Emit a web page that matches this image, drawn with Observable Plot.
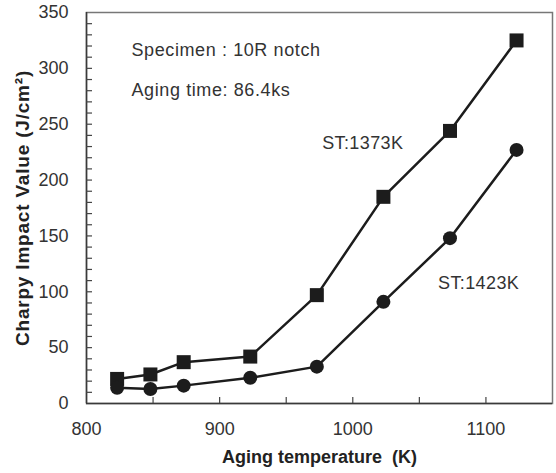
<!DOCTYPE html>
<html>
<head>
<meta charset="utf-8">
<script src="https://cdn.jsdelivr.net/npm/d3@7"></script>
<script src="https://cdn.jsdelivr.net/npm/@observablehq/plot@0.6"></script>
<style>
  body { margin: 0; background: #fff; }
  svg text { white-space: pre; }
</style>
</head>
<body>
<div id="chart"></div>
<script>
// Aging temperature (K) and Charpy impact values (J/cm²) for two solution treatments
const agingTemps = [823, 848, 873, 923, 973, 1023, 1073, 1123];
const st1373 = [22, 26, 37, 42, 97, 185, 244, 325];
const st1423 = [14, 13, 16, 23, 33, 91, 148, 227];
const seriesNames = ["ST:1373K", "ST:1423K"];
const notes = ["Specimen : 10R notch", "Aging time: 86.4ks"];
const xTitle = "Aging temperature  (K)";
const yTitle = "Charpy Impact Value (J/cm²)";

// Axis tick labels and tick marks
const xTickLabels = [800, 900, 1000, 1100];
const yTickLabels = [0, 50, 100, 150, 200, 250, 300, 350];
const xTickMarks = [850, 900, 950, 1000, 1050, 1100];
const yTickMarks = d3.range(10, 350, 10);

const rows = [
  ...agingTemps.map((t, i) => ({t, v: st1373[i], s: seriesNames[0]})),
  ...agingTemps.map((t, i) => ({t, v: st1423[i], s: seriesNames[1]}))
];

const W = 556, H = 473;
const mL = 86, mR = 4, mT = 12, mB = 70;
const plotW = W - mL - mR, plotH = H - mT - mB;
const font = "'Liberation Sans', Arial, sans-serif";
const ink = "#1c1c1c";
const note = {textAnchor: "start", lineAnchor: "middle", fontSize: 18, fill: "#333"};

const chart = Plot.plot({
  width: W,
  height: H,
  marginLeft: mL,
  marginRight: mR,
  marginTop: mT,
  marginBottom: mB,
  style: {fontFamily: font, fontSize: "18px", color: "#333", background: "#fff"},
  x: {domain: [800, 1150]},
  y: {domain: [0, 350]},
  marks: [
    Plot.frame({stroke: "#777", strokeWidth: 1.5}),
    Plot.ruleX([800], {stroke: "#3a3a3a", strokeWidth: 1.5}),
    Plot.ruleY([0], {stroke: "#3a3a3a", strokeWidth: 1.5}),
    // inward tick marks
    Plot.tickX(xTickMarks, {x: d => d, insetTop: plotH - 6, stroke: "#444", strokeWidth: 1.2}),
    Plot.tickY(yTickMarks, {y: d => d, insetRight: plotW - 6, stroke: "#444", strokeWidth: 1.2}),
    Plot.axisX(xTickLabels, {tickSize: 0, tickPadding: 19, tickFormat: d => String(d), label: null, fill: "#333", fontSize: 18}),
    Plot.axisY(yTickLabels, {tickSize: 0, tickPadding: 18, tickFormat: d => String(d), label: null, fill: "#333", fontSize: 18}),
    // axis titles
    Plot.text([xTitle], {
      frameAnchor: "bottom", dy: 54, textAnchor: "middle", lineAnchor: "middle",
      fontWeight: "bold", fontSize: 18, fill: "#222"
    }),
    Plot.text([yTitle], {
      frameAnchor: "left", dx: -64, rotate: -90, textAnchor: "middle", lineAnchor: "middle",
      fontWeight: "bold", fontSize: 19, fill: "#222"
    }),
    // condition notes
    Plot.text([notes[0]], {frameAnchor: "top-left", dx: 45, dy: 38, ...note}),
    Plot.text([notes[1]], {frameAnchor: "top-left", dx: 45, dy: 78, ...note}),
    // series
    Plot.line(rows, {x: "t", y: "v", z: "s", stroke: ink, strokeWidth: 2.5}),
    Plot.dot(rows.filter(d => d.s === seriesNames[0]), {
      x: "t", y: "v", symbol: "square", r: 7.9, fill: ink, stroke: "none"
    }),
    Plot.dot(rows.filter(d => d.s === seriesNames[1]), {
      x: "t", y: "v", symbol: "circle", r: 7, fill: ink, stroke: "none"
    }),
    // series labels
    Plot.text([seriesNames[0]], {x: 977, y: 233, ...note}),
    Plot.text([seriesNames[1]], {x: 1064, y: 107.5, ...note})
  ]
});

// widen the tracking of the annotation and y-title text
const spacing = new Map([[notes[0], 0.6], [notes[1], 0.6], [seriesNames[0], 0.4], [seriesNames[1], 0.4], [yTitle, 0.8]]);
d3.select(chart).selectAll("text").each(function() {
  const s = spacing.get(this.textContent);
  if (s != null) this.setAttribute("letter-spacing", s + "px");
});

document.getElementById("chart").appendChild(chart);
</script>
</body>
</html>
